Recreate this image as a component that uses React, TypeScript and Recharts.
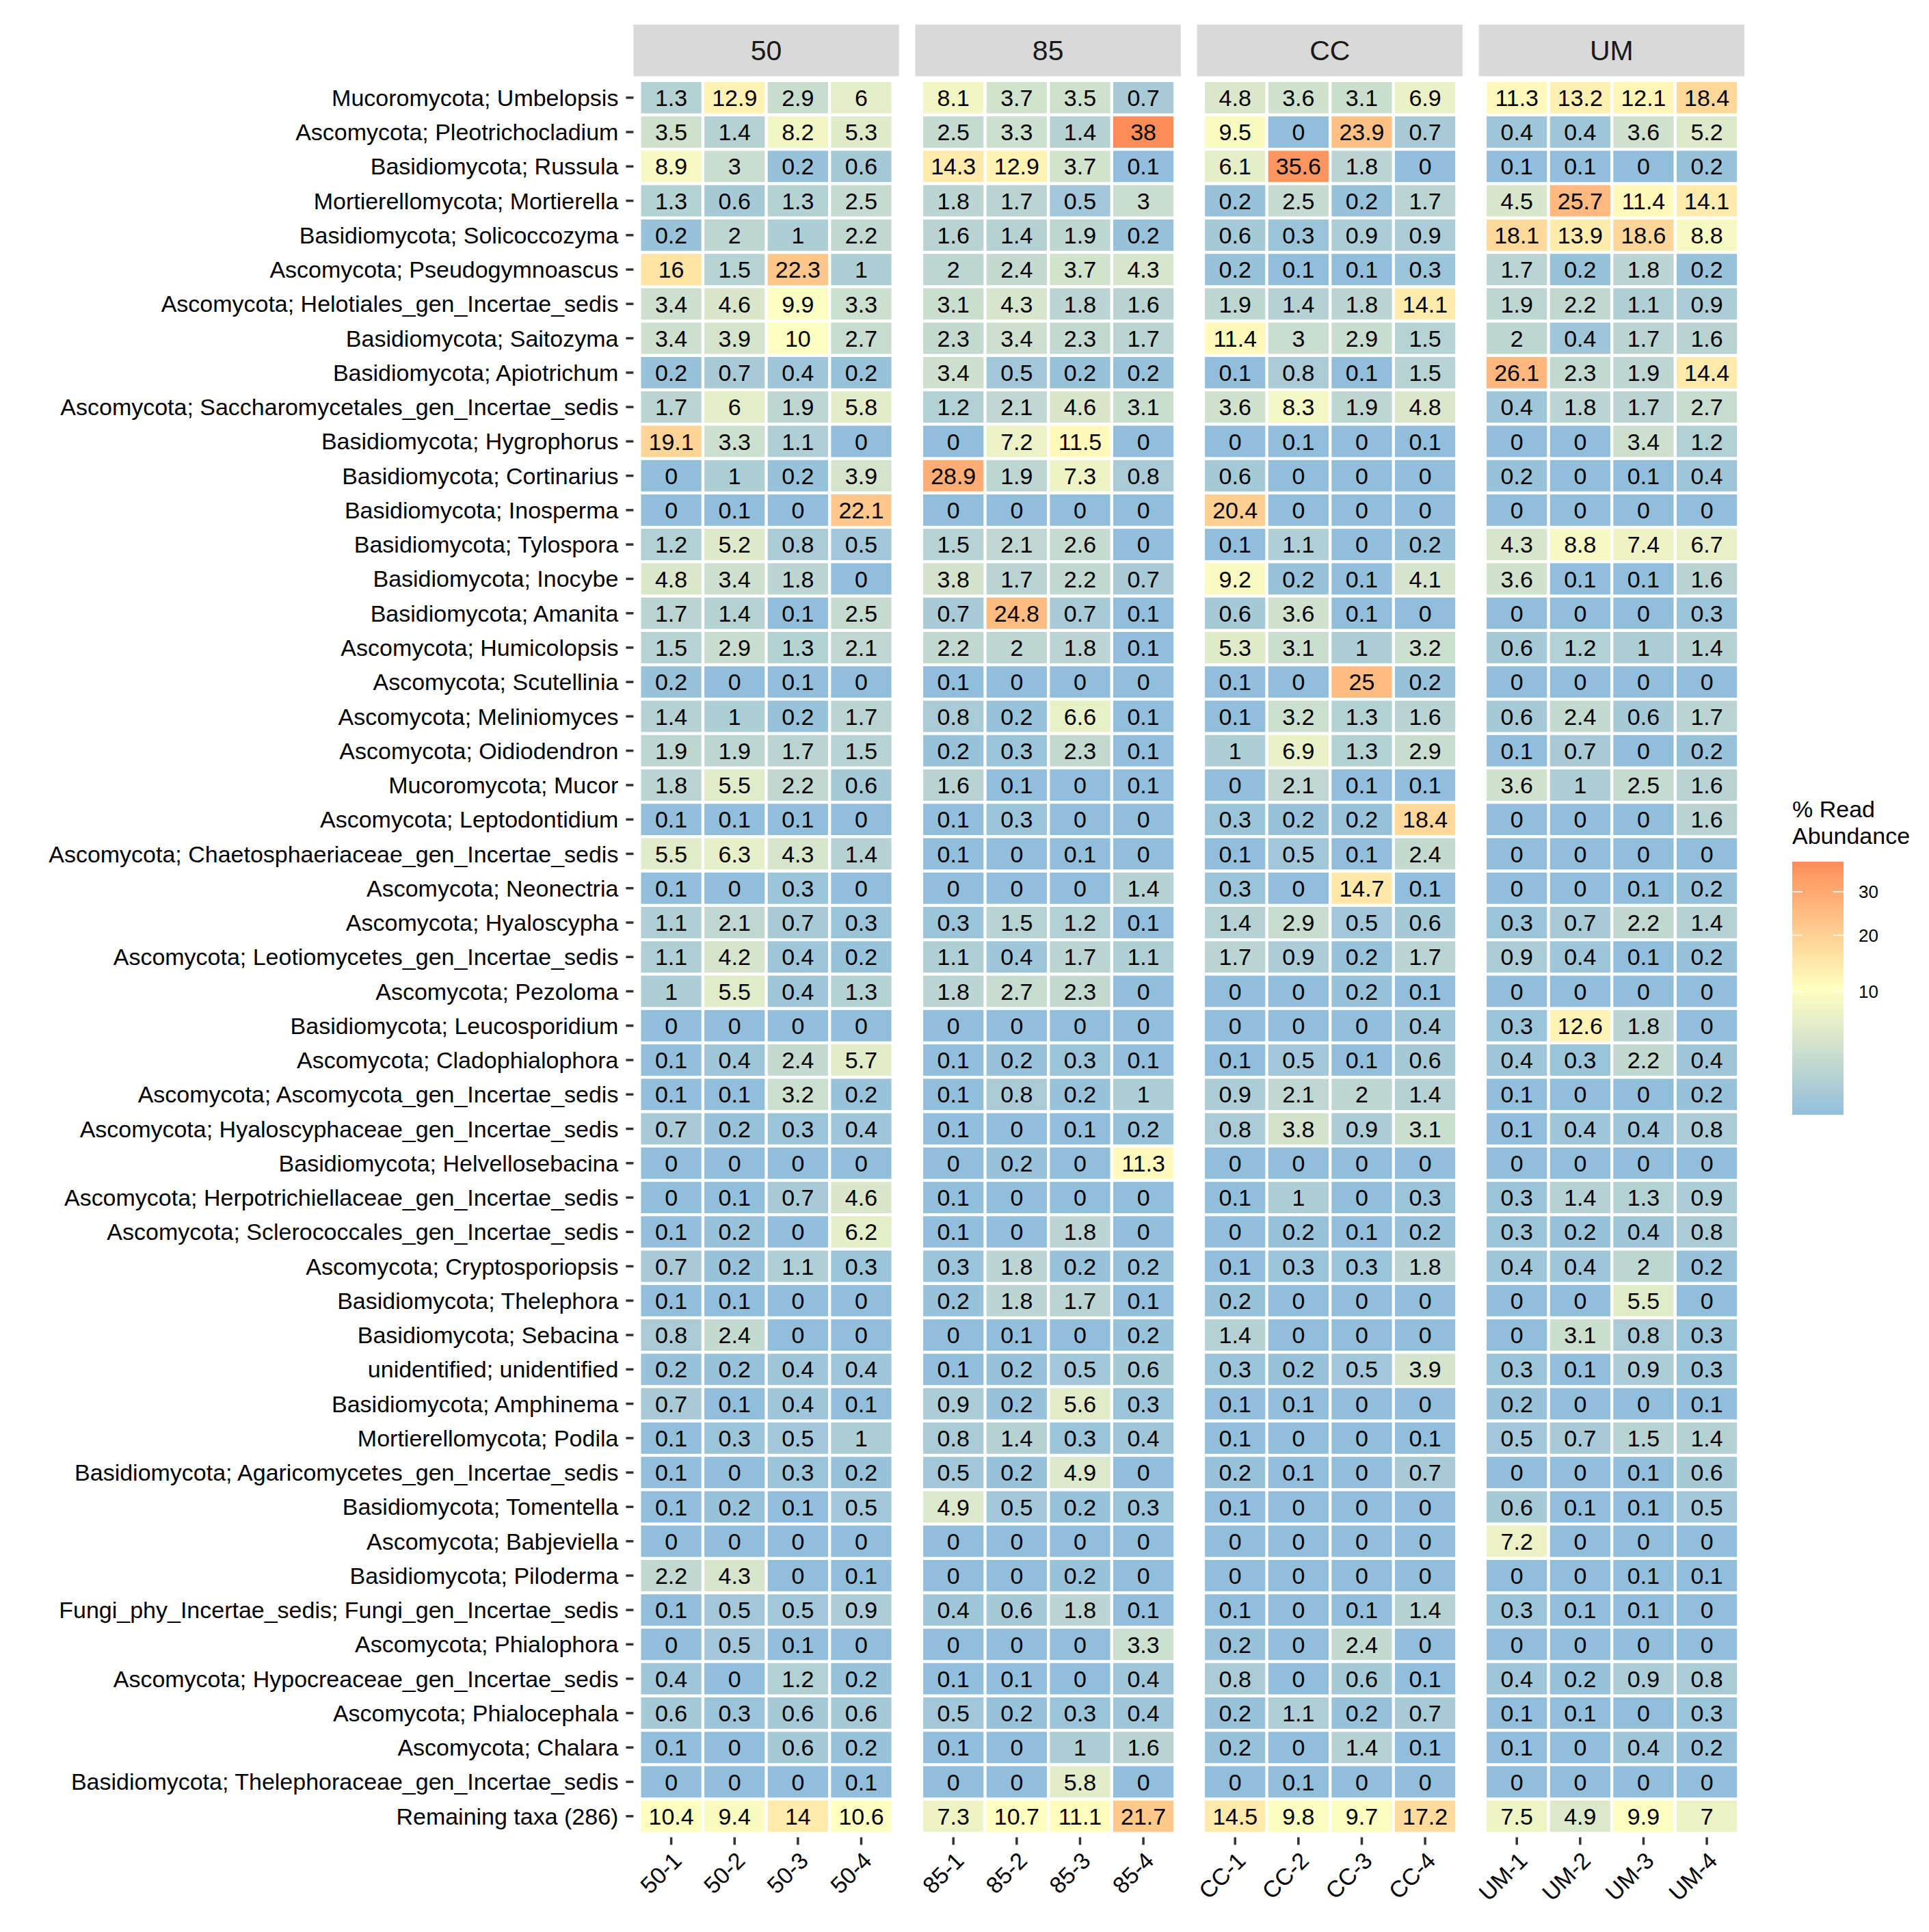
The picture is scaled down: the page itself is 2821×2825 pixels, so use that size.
import React from 'react';
import { ScatterChart, Scatter, XAxis, YAxis } from 'recharts';

const FONT = '"Liberation Sans", Arial, Helvetica, sans-serif';

// ---------------- data ----------------
const GROUPS = ['50', '85', 'CC', 'UM'];
const SAMPLES_50 = ['50-1', '50-2', '50-3', '50-4'];
const SAMPLES_85 = ['85-1', '85-2', '85-3', '85-4'];
const SAMPLES_CC = ['CC-1', 'CC-2', 'CC-3', 'CC-4'];
const SAMPLES_UM = ['UM-1', 'UM-2', 'UM-3', 'UM-4'];

const TAXA = [
  'Mucoromycota; Umbelopsis',
  'Ascomycota; Pleotrichocladium',
  'Basidiomycota; Russula',
  'Mortierellomycota; Mortierella',
  'Basidiomycota; Solicoccozyma',
  'Ascomycota; Pseudogymnoascus',
  'Ascomycota; Helotiales_gen_Incertae_sedis',
  'Basidiomycota; Saitozyma',
  'Basidiomycota; Apiotrichum',
  'Ascomycota; Saccharomycetales_gen_Incertae_sedis',
  'Basidiomycota; Hygrophorus',
  'Basidiomycota; Cortinarius',
  'Basidiomycota; Inosperma',
  'Basidiomycota; Tylospora',
  'Basidiomycota; Inocybe',
  'Basidiomycota; Amanita',
  'Ascomycota; Humicolopsis',
  'Ascomycota; Scutellinia',
  'Ascomycota; Meliniomyces',
  'Ascomycota; Oidiodendron',
  'Mucoromycota; Mucor',
  'Ascomycota; Leptodontidium',
  'Ascomycota; Chaetosphaeriaceae_gen_Incertae_sedis',
  'Ascomycota; Neonectria',
  'Ascomycota; Hyaloscypha',
  'Ascomycota; Leotiomycetes_gen_Incertae_sedis',
  'Ascomycota; Pezoloma',
  'Basidiomycota; Leucosporidium',
  'Ascomycota; Cladophialophora',
  'Ascomycota; Ascomycota_gen_Incertae_sedis',
  'Ascomycota; Hyaloscyphaceae_gen_Incertae_sedis',
  'Basidiomycota; Helvellosebacina',
  'Ascomycota; Herpotrichiellaceae_gen_Incertae_sedis',
  'Ascomycota; Sclerococcales_gen_Incertae_sedis',
  'Ascomycota; Cryptosporiopsis',
  'Basidiomycota; Thelephora',
  'Basidiomycota; Sebacina',
  'unidentified; unidentified',
  'Basidiomycota; Amphinema',
  'Mortierellomycota; Podila',
  'Basidiomycota; Agaricomycetes_gen_Incertae_sedis',
  'Basidiomycota; Tomentella',
  'Ascomycota; Babjeviella',
  'Basidiomycota; Piloderma',
  'Fungi_phy_Incertae_sedis; Fungi_gen_Incertae_sedis',
  'Ascomycota; Phialophora',
  'Ascomycota; Hypocreaceae_gen_Incertae_sedis',
  'Ascomycota; Phialocephala',
  'Ascomycota; Chalara',
  'Basidiomycota; Thelephoraceae_gen_Incertae_sedis',
  'Remaining taxa (286)',
];

const VALUES_50 = [
  [1.3, 12.9, 2.9, 6], [3.5, 1.4, 8.2, 5.3], [8.9, 3, 0.2, 0.6], [1.3, 0.6, 1.3, 2.5],
  [0.2, 2, 1, 2.2], [16, 1.5, 22.3, 1], [3.4, 4.6, 9.9, 3.3], [3.4, 3.9, 10, 2.7],
  [0.2, 0.7, 0.4, 0.2], [1.7, 6, 1.9, 5.8], [19.1, 3.3, 1.1, 0], [0, 1, 0.2, 3.9],
  [0, 0.1, 0, 22.1], [1.2, 5.2, 0.8, 0.5], [4.8, 3.4, 1.8, 0], [1.7, 1.4, 0.1, 2.5],
  [1.5, 2.9, 1.3, 2.1], [0.2, 0, 0.1, 0], [1.4, 1, 0.2, 1.7], [1.9, 1.9, 1.7, 1.5],
  [1.8, 5.5, 2.2, 0.6], [0.1, 0.1, 0.1, 0], [5.5, 6.3, 4.3, 1.4], [0.1, 0, 0.3, 0],
  [1.1, 2.1, 0.7, 0.3], [1.1, 4.2, 0.4, 0.2], [1, 5.5, 0.4, 1.3], [0, 0, 0, 0],
  [0.1, 0.4, 2.4, 5.7], [0.1, 0.1, 3.2, 0.2], [0.7, 0.2, 0.3, 0.4], [0, 0, 0, 0],
  [0, 0.1, 0.7, 4.6], [0.1, 0.2, 0, 6.2], [0.7, 0.2, 1.1, 0.3], [0.1, 0.1, 0, 0],
  [0.8, 2.4, 0, 0], [0.2, 0.2, 0.4, 0.4], [0.7, 0.1, 0.4, 0.1], [0.1, 0.3, 0.5, 1],
  [0.1, 0, 0.3, 0.2], [0.1, 0.2, 0.1, 0.5], [0, 0, 0, 0], [2.2, 4.3, 0, 0.1],
  [0.1, 0.5, 0.5, 0.9], [0, 0.5, 0.1, 0], [0.4, 0, 1.2, 0.2], [0.6, 0.3, 0.6, 0.6],
  [0.1, 0, 0.6, 0.2], [0, 0, 0, 0.1], [10.4, 9.4, 14, 10.6],
];

const VALUES_85 = [
  [8.1, 3.7, 3.5, 0.7], [2.5, 3.3, 1.4, 38], [14.3, 12.9, 3.7, 0.1], [1.8, 1.7, 0.5, 3],
  [1.6, 1.4, 1.9, 0.2], [2, 2.4, 3.7, 4.3], [3.1, 4.3, 1.8, 1.6], [2.3, 3.4, 2.3, 1.7],
  [3.4, 0.5, 0.2, 0.2], [1.2, 2.1, 4.6, 3.1], [0, 7.2, 11.5, 0], [28.9, 1.9, 7.3, 0.8],
  [0, 0, 0, 0], [1.5, 2.1, 2.6, 0], [3.8, 1.7, 2.2, 0.7], [0.7, 24.8, 0.7, 0.1],
  [2.2, 2, 1.8, 0.1], [0.1, 0, 0, 0], [0.8, 0.2, 6.6, 0.1], [0.2, 0.3, 2.3, 0.1],
  [1.6, 0.1, 0, 0.1], [0.1, 0.3, 0, 0], [0.1, 0, 0.1, 0], [0, 0, 0, 1.4],
  [0.3, 1.5, 1.2, 0.1], [1.1, 0.4, 1.7, 1.1], [1.8, 2.7, 2.3, 0], [0, 0, 0, 0],
  [0.1, 0.2, 0.3, 0.1], [0.1, 0.8, 0.2, 1], [0.1, 0, 0.1, 0.2], [0, 0.2, 0, 11.3],
  [0.1, 0, 0, 0], [0.1, 0, 1.8, 0], [0.3, 1.8, 0.2, 0.2], [0.2, 1.8, 1.7, 0.1],
  [0, 0.1, 0, 0.2], [0.1, 0.2, 0.5, 0.6], [0.9, 0.2, 5.6, 0.3], [0.8, 1.4, 0.3, 0.4],
  [0.5, 0.2, 4.9, 0], [4.9, 0.5, 0.2, 0.3], [0, 0, 0, 0], [0, 0, 0.2, 0],
  [0.4, 0.6, 1.8, 0.1], [0, 0, 0, 3.3], [0.1, 0.1, 0, 0.4], [0.5, 0.2, 0.3, 0.4],
  [0.1, 0, 1, 1.6], [0, 0, 5.8, 0], [7.3, 10.7, 11.1, 21.7],
];

const VALUES_CC = [
  [4.8, 3.6, 3.1, 6.9], [9.5, 0, 23.9, 0.7], [6.1, 35.6, 1.8, 0], [0.2, 2.5, 0.2, 1.7],
  [0.6, 0.3, 0.9, 0.9], [0.2, 0.1, 0.1, 0.3], [1.9, 1.4, 1.8, 14.1], [11.4, 3, 2.9, 1.5],
  [0.1, 0.8, 0.1, 1.5], [3.6, 8.3, 1.9, 4.8], [0, 0.1, 0, 0.1], [0.6, 0, 0, 0],
  [20.4, 0, 0, 0], [0.1, 1.1, 0, 0.2], [9.2, 0.2, 0.1, 4.1], [0.6, 3.6, 0.1, 0],
  [5.3, 3.1, 1, 3.2], [0.1, 0, 25, 0.2], [0.1, 3.2, 1.3, 1.6], [1, 6.9, 1.3, 2.9],
  [0, 2.1, 0.1, 0.1], [0.3, 0.2, 0.2, 18.4], [0.1, 0.5, 0.1, 2.4], [0.3, 0, 14.7, 0.1],
  [1.4, 2.9, 0.5, 0.6], [1.7, 0.9, 0.2, 1.7], [0, 0, 0.2, 0.1], [0, 0, 0, 0.4],
  [0.1, 0.5, 0.1, 0.6], [0.9, 2.1, 2, 1.4], [0.8, 3.8, 0.9, 3.1], [0, 0, 0, 0],
  [0.1, 1, 0, 0.3], [0, 0.2, 0.1, 0.2], [0.1, 0.3, 0.3, 1.8], [0.2, 0, 0, 0],
  [1.4, 0, 0, 0], [0.3, 0.2, 0.5, 3.9], [0.1, 0.1, 0, 0], [0.1, 0, 0, 0.1],
  [0.2, 0.1, 0, 0.7], [0.1, 0, 0, 0], [0, 0, 0, 0], [0, 0, 0, 0],
  [0.1, 0, 0.1, 1.4], [0.2, 0, 2.4, 0], [0.8, 0, 0.6, 0.1], [0.2, 1.1, 0.2, 0.7],
  [0.2, 0, 1.4, 0.1], [0, 0.1, 0, 0], [14.5, 9.8, 9.7, 17.2],
];

const VALUES_UM = [
  [11.3, 13.2, 12.1, 18.4], [0.4, 0.4, 3.6, 5.2], [0.1, 0.1, 0, 0.2], [4.5, 25.7, 11.4, 14.1],
  [18.1, 13.9, 18.6, 8.8], [1.7, 0.2, 1.8, 0.2], [1.9, 2.2, 1.1, 0.9], [2, 0.4, 1.7, 1.6],
  [26.1, 2.3, 1.9, 14.4], [0.4, 1.8, 1.7, 2.7], [0, 0, 3.4, 1.2], [0.2, 0, 0.1, 0.4],
  [0, 0, 0, 0], [4.3, 8.8, 7.4, 6.7], [3.6, 0.1, 0.1, 1.6], [0, 0, 0, 0.3],
  [0.6, 1.2, 1, 1.4], [0, 0, 0, 0], [0.6, 2.4, 0.6, 1.7], [0.1, 0.7, 0, 0.2],
  [3.6, 1, 2.5, 1.6], [0, 0, 0, 1.6], [0, 0, 0, 0], [0, 0, 0.1, 0.2],
  [0.3, 0.7, 2.2, 1.4], [0.9, 0.4, 0.1, 0.2], [0, 0, 0, 0], [0.3, 12.6, 1.8, 0],
  [0.4, 0.3, 2.2, 0.4], [0.1, 0, 0, 0.2], [0.1, 0.4, 0.4, 0.8], [0, 0, 0, 0],
  [0.3, 1.4, 1.3, 0.9], [0.3, 0.2, 0.4, 0.8], [0.4, 0.4, 2, 0.2], [0, 0, 5.5, 0],
  [0, 3.1, 0.8, 0.3], [0.3, 0.1, 0.9, 0.3], [0.2, 0, 0, 0.1], [0.5, 0.7, 1.5, 1.4],
  [0, 0, 0.1, 0.6], [0.6, 0.1, 0.1, 0.5], [7.2, 0, 0, 0], [0, 0, 0.1, 0.1],
  [0.3, 0.1, 0.1, 0], [0, 0, 0, 0], [0.4, 0.2, 0.9, 0.8], [0.1, 0.1, 0, 0.3],
  [0.1, 0, 0.4, 0.2], [0, 0, 0, 0], [7.5, 4.9, 9.9, 7],
];

const LEGEND_TITLE = ['% Read', 'Abundance'];
const LEGEND_TICKS = [10, 20, 30];
const COLOR_LIMITS = [0.098, 38.12];
const PALETTE = ['#91BFDB', '#FFFFBF', '#FC8D59'];

const SAMPLE_SETS = [SAMPLES_50, SAMPLES_85, SAMPLES_CC, SAMPLES_UM];
const VALUE_SETS = [VALUES_50, VALUES_85, VALUES_CC, VALUES_UM];
const ROW_INDEX = TAXA.map((_, i) => i);
const COL_INDEX = SAMPLES_50.map((_, i) => i);

// ---------------- layout ----------------
const PANEL_LEFT0 = 926.4;
const PANEL_STEP = 412.1;
const PANEL_W = 388.3;
const PANEL_TOP = 111.5;
const PANEL_H = 2574.5;
const STRIP_TOP = 36;
const STRIP_H = PANEL_TOP - STRIP_TOP;
const X_AXIS_H = 130;
const X_DOMAIN: [number, number] = [-0.596, 3.596];
const Y_DOMAIN: [number, number] = [-0.613, 50.613];
const PITCH_X = PANEL_W / (X_DOMAIN[1] - X_DOMAIN[0]);
const PITCH_Y = PANEL_H / (Y_DOMAIN[1] - Y_DOMAIN[0]);
const GAP = 4.4;

const BAR_X = 2621;
const BAR_Y = 1260;
const BAR_W = 75;
const BAR_H = 370;

// ---------------- colour (Lab interpolation, sqrt transform) ----------------
function hexToRgb(h: string) {
  return [parseInt(h.slice(1, 3), 16), parseInt(h.slice(3, 5), 16), parseInt(h.slice(5, 7), 16)];
}
function toLin(c: number) {
  const v = c / 255;
  return v <= 0.04045 ? v / 12.92 : Math.pow((v + 0.055) / 1.055, 2.4);
}
function fromLin(c: number) {
  const v = c <= 0.0031308 ? 12.92 * c : 1.055 * Math.pow(c, 1 / 2.4) - 0.055;
  return Math.round(Math.max(0, Math.min(1, v)) * 255);
}
function rgbToLab(rgb: number[]) {
  const R = toLin(rgb[0]), G = toLin(rgb[1]), B = toLin(rgb[2]);
  const X = (0.4124 * R + 0.3576 * G + 0.1805 * B) / 0.95047;
  const Y = 0.2126 * R + 0.7152 * G + 0.0722 * B;
  const Z = (0.0193 * R + 0.1192 * G + 0.9505 * B) / 1.08883;
  const f = (t: number) => (t > 0.008856 ? Math.cbrt(t) : 7.787 * t + 16 / 116);
  const fx = f(X), fy = f(Y), fz = f(Z);
  return [116 * fy - 16, 500 * (fx - fy), 200 * (fy - fz)];
}
function labToHex(lab: number[]) {
  const fy = (lab[0] + 16) / 116;
  const fx = fy + lab[1] / 500;
  const fz = fy - lab[2] / 200;
  const inv = (t: number) => (t * t * t > 0.008856 ? t * t * t : (t - 16 / 116) / 7.787);
  const X = inv(fx) * 0.95047, Y = inv(fy), Z = inv(fz) * 1.08883;
  const R = 3.2406 * X - 1.5372 * Y - 0.4986 * Z;
  const G = -0.9689 * X + 1.8758 * Y + 0.0415 * Z;
  const B = 0.0557 * X - 0.204 * Y + 1.057 * Z;
  return '#' + [R, G, B].map((c) => fromLin(c).toString(16).padStart(2, '0')).join('');
}
const PAL_LAB = PALETTE.map((h) => rgbToLab(hexToRgb(h)));
const S0 = Math.sqrt(COLOR_LIMITS[0]);
const S1 = Math.sqrt(COLOR_LIMITS[1]);

function colorAt(t: number) {
  const tt = Math.max(0, Math.min(1, t));
  const seg = tt <= 0.5 ? 0 : 1;
  const u = seg === 0 ? tt / 0.5 : (tt - 0.5) / 0.5;
  const a = PAL_LAB[seg], b = PAL_LAB[seg + 1];
  return labToHex([a[0] + (b[0] - a[0]) * u, a[1] + (b[1] - a[1]) * u, a[2] + (b[2] - a[2]) * u]);
}
function scaleT(v: number) {
  return (Math.sqrt(Math.max(0, v)) - S0) / (S1 - S0);
}
function fillFor(v: number) {
  return colorAt(scaleT(v));
}

// ---------------- components ----------------
function CellShape(props: any) {
  const { cx, cy, payload } = props;
  if (cx == null || cy == null || !payload) return null;
  const w = PITCH_X - GAP;
  const h = PITCH_Y - GAP;
  return (
    <g>
      <rect x={cx - w / 2} y={cy - h / 2} width={w} height={h} fill={fillFor(payload.v)} />
      <text x={cx} y={cy} dy="0.358em" textAnchor="middle" fontSize={34} fontFamily={FONT} fill="#000000">
        {String(payload.v)}
      </text>
    </g>
  );
}

function XTick(props: any) {
  const { x, y, payload, labels } = props;
  const label = labels[payload.value];
  return (
    <text
      x={x}
      y={y}
      dy="0.72em"
      textAnchor="end"
      transform={`rotate(-45 ${x} ${y})`}
      fontSize={34}
      fontFamily={FONT}
      fill="#000000"
    >
      {label}
    </text>
  );
}

function Panel({ idx }: { idx: number }) {
  const samples = SAMPLE_SETS[idx];
  const values = VALUE_SETS[idx];
  const data: { x: number; y: number; v: number }[] = [];
  values.forEach((row, r) => row.forEach((v, c) => data.push({ x: c, y: r, v })));
  const first = idx === 0;
  const yw = first ? PANEL_LEFT0 : 0;
  const left = first ? 0 : PANEL_LEFT0 + idx * PANEL_STEP;
  return (
    <div style={{ position: 'absolute', left, top: PANEL_TOP }}>
      <ScatterChart width={yw + PANEL_W} height={PANEL_H + X_AXIS_H} margin={{ top: 0, right: 0, bottom: 0, left: 0 }}>
        <XAxis
          type="number"
          dataKey="x"
          domain={X_DOMAIN}
          allowDataOverflow
          ticks={COL_INDEX}
          interval={0}
          axisLine={false}
          tickLine={{ stroke: '#333333', strokeWidth: 3.5 }}
          tickSize={11}
          tickMargin={8}
          height={X_AXIS_H}
          tick={(p: any) => <XTick {...p} labels={samples} />}
        />
        <YAxis
          type="number"
          dataKey="y"
          domain={Y_DOMAIN}
          allowDataOverflow
          reversed
          ticks={ROW_INDEX}
          interval={0}
          hide={!first}
          width={yw}
          axisLine={false}
          tickLine={{ stroke: '#333333', strokeWidth: 3.5 }}
          tickSize={11}
          tickMargin={11}
          tickFormatter={(v: number) => TAXA[v]}
          tick={{ fill: '#000000', fontSize: 34, fontFamily: FONT }}
        />
        <Scatter data={data} shape={CellShape} isAnimationActive={false} />
      </ScatterChart>
    </div>
  );
}

function Overlay() {
  const stops = Array.from({ length: 41 }, (_, k) => k / 40);
  const tickY = (v: number) => BAR_Y + BAR_H - scaleT(v) * BAR_H;
  return (
    <svg width={2821} height={2825} style={{ position: 'absolute', left: 0, top: 0, pointerEvents: 'none' }}>
      <defs>
        <linearGradient id="cbar" x1="0" y1="1" x2="0" y2="0">
          {stops.map((t) => (
            <stop key={t} offset={t} stopColor={colorAt(t)} />
          ))}
        </linearGradient>
      </defs>
      {GROUPS.map((g, i) => {
        const x = PANEL_LEFT0 + i * PANEL_STEP;
        return (
          <g key={g}>
            <rect x={x} y={STRIP_TOP} width={PANEL_W} height={STRIP_H} fill="#D9D9D9" />
            <text
              x={x + PANEL_W / 2}
              y={STRIP_TOP + STRIP_H / 2}
              dy="0.358em"
              textAnchor="middle"
              fontSize={41}
              fontFamily={FONT}
              fill="#1A1A1A"
            >
              {g}
            </text>
          </g>
        );
      })}
      {LEGEND_TITLE.map((line, i) => (
        <text key={line} x={BAR_X} y={1195 + i * 38.5} fontSize={34} fontFamily={FONT} fill="#000000">
          {line}
        </text>
      ))}
      <rect x={BAR_X} y={BAR_Y} width={BAR_W} height={BAR_H} fill="url(#cbar)" />
      {LEGEND_TICKS.map((v) => {
        const y = tickY(v);
        return (
          <g key={v}>
            <line x1={BAR_X} x2={BAR_X + 15} y1={y} y2={y} stroke="#FFFFFF" strokeWidth={1.6} />
            <line x1={BAR_X + BAR_W - 15} x2={BAR_X + BAR_W} y1={y} y2={y} stroke="#FFFFFF" strokeWidth={1.6} />
            <text x={2718} y={y} dy="0.358em" fontSize={26} fontFamily={FONT} fill="#000000">
              {v}
            </text>
          </g>
        );
      })}
    </svg>
  );
}

export default function App() {
  return (
    <div
      style={{
        position: 'absolute',
        left: 0,
        top: 0,
        width: 2821,
        height: 2825,
        overflow: 'hidden',
        background: '#FFFFFF',
        fontFamily: FONT,
      }}
    >
      {GROUPS.map((g, i) => (
        <Panel key={g} idx={i} />
      ))}
      <Overlay />
    </div>
  );
}
